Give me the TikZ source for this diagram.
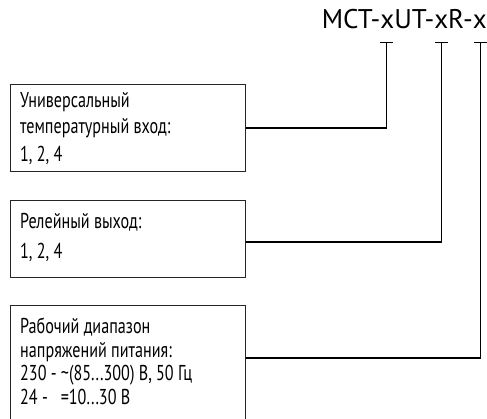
\documentclass[tikz,border=0pt]{standalone}
\usepackage{fontspec}
\setmainfont{PT Sans}[FakeStretch=0.75]
\newfontfamily\codefont{PT Sans}
\usetikzlibrary{arrows.meta}
\begin{document}
\begin{tikzpicture}[x=1pt,y=-1pt,
  infobox/.style={draw=black!85,line width=1.1pt,anchor=north west,minimum width=235,inner sep=0pt},
  wire/.style={draw=black,line width=1.4pt,{Bar[width=13pt,line width=1.4pt]}-},
  lbl/.style={anchor=base west,inner sep=0pt,font=\fontsize{21.5}{24}\selectfont},
  code/.style={anchor=base east,inner sep=0pt,font=\codefont\fontsize{27}{30}\selectfont}]
\useasboundingbox (0,0) rectangle (487,418);
\clip (0,0) rectangle (487,418);

% model code
\node[code] (code) at (487,28) {MCT-xUT-xR-x};

% description boxes
\node[infobox,minimum height=87] (b1) at (10,84) {};
\node[infobox,minimum height=77] (b2) at (10,200) {};
\node[infobox,minimum height=130] (b3) at (10,305) {};

\node[lbl] (l11) at (20,107) {Универсальный};
\node[lbl] (l12) at (20,133) {температурный вход:};
\node[lbl] (l13) at (20,161) {1, 2, 4};

\node[lbl] (l21) at (20,228) {Релейный выход:};
\node[lbl] (l22) at (20,258) {1, 2, 4};

\node[lbl] (l31) at (20,333) {Рабочий диапазон};
\node[lbl] (l32) at (20,357) {напряжений питания:};
\node[lbl] (l33) at (20,380) {230 - \char"7E(85...300) В, 50 Гц};
\node[lbl] (l34) at (20,404) {24 -~~ =10...30 В};

% connection points
\coordinate (t1) at (386.5,42);
\coordinate (t2) at (441.5,42);
\coordinate (t3) at (480.5,42);
\coordinate (e1) at (b1.east);
\coordinate (e2) at (b2.east |- 0,242);
\coordinate (e3) at (b3.east |- 0,358);

\draw[wire] (t1) |- (e1);
\draw[wire] (t2) |- (e2);
\draw[wire] (t3) |- (e3);
\end{tikzpicture}
\end{document}
